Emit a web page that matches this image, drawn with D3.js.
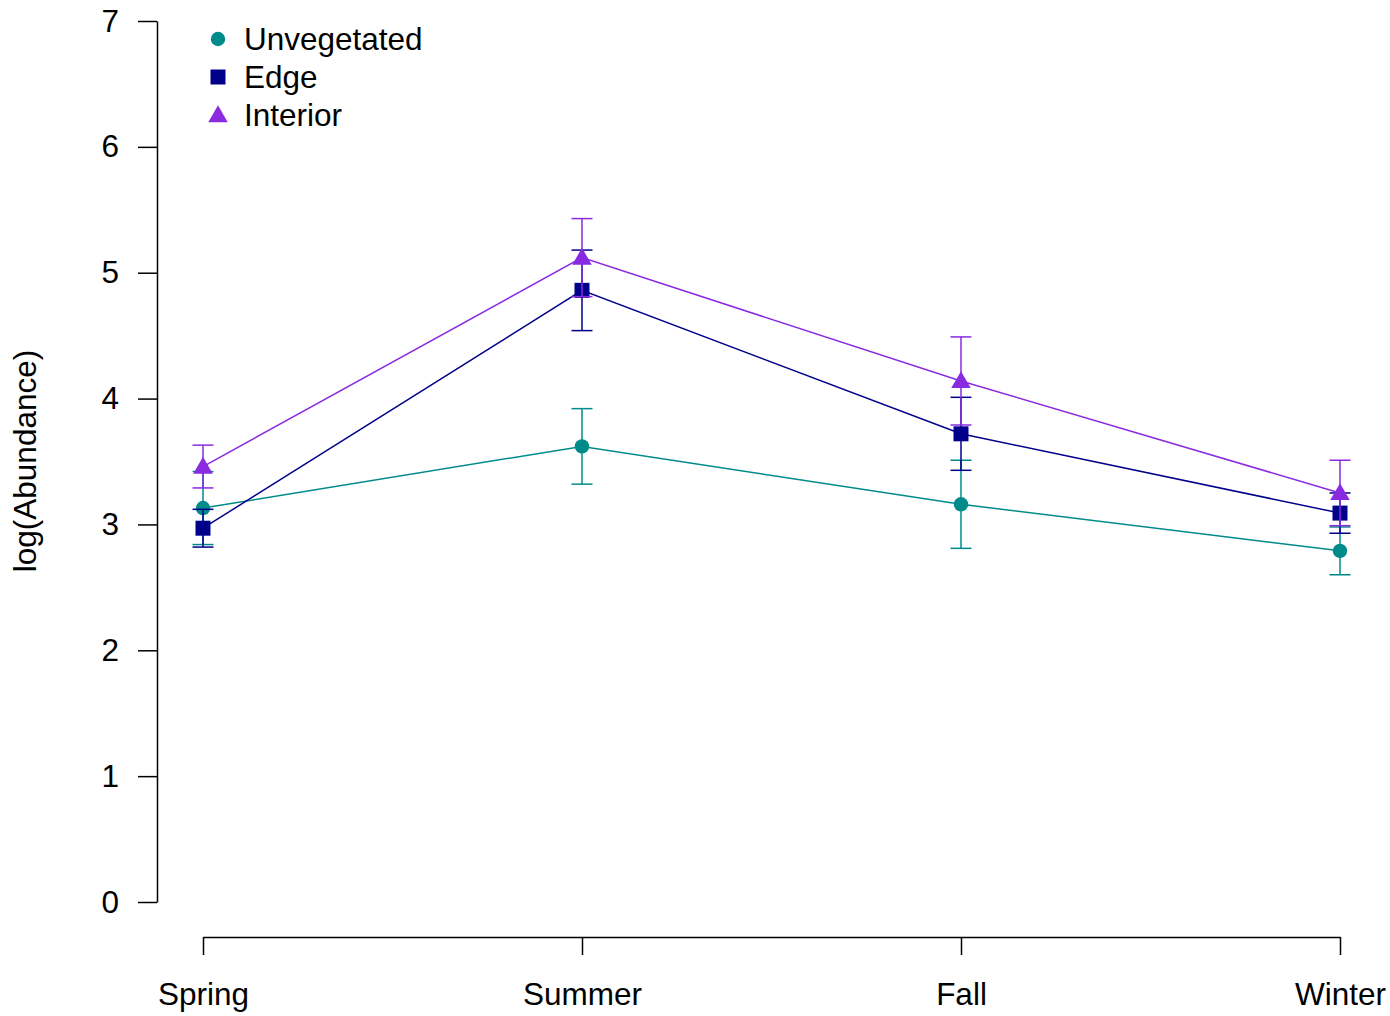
<!DOCTYPE html>
<html><head><meta charset="utf-8">
<script src="https://cdn.jsdelivr.net/npm/d3@7"></script>
<style>
body{margin:0;background:#fff;}
text{font-family:"Liberation Sans",Arial,Helvetica,sans-serif;}
</style></head>
<body>
<svg id="chart" width="1390" height="1016"></svg>
<script>
const seasons = ["Spring","Summer","Fall","Winter"];
const seriesNames = ["Unvegetated","Edge","Interior"];
const unvegMean = [3.13, 3.62, 3.16, 2.79];
const unvegErr  = [0.29, 0.30, 0.35, 0.19];
const edgeMean  = [2.97, 4.86, 3.72, 3.09];
const edgeErr   = [0.15, 0.32, 0.29, 0.16];
const intMean   = [3.46, 5.12, 4.14, 3.25];
const intErr    = [0.17, 0.31, 0.35, 0.26];
const yTicks = [0,1,2,3,4,5,6,7];
const colors = ["#008B8B","#00008B","#8A2BE2"];
const shapes = ["circle","square","triangle"];

const series = [
  {name: seriesNames[0], mean: unvegMean, err: unvegErr, color: colors[0], shape: shapes[0]},
  {name: seriesNames[1], mean: edgeMean, err: edgeErr, color: colors[1], shape: shapes[1]},
  {name: seriesNames[2], mean: intMean, err: intErr, color: colors[2], shape: shapes[2]}
];

const svg = d3.select("#chart");
const x = d3.scalePoint().domain(seasons).range([203,1340]);
const y = d3.scaleLinear().domain([0,7]).range([902,21]);

const fs = 31.5;

// Y axis
const ya = svg.append("g").attr("transform","translate(157,0)")
  .call(d3.axisLeft(y).tickValues(yTicks).tickFormat(d3.format("d")).tickSize(19).tickSizeOuter(0).tickPadding(19));
ya.selectAll("text").attr("font-size",fs).attr("fill","#000").style("font-family","Liberation Sans, Arial, sans-serif");
ya.selectAll("line,path").attr("stroke","#000").attr("stroke-width",1.5);

// X axis
const xa = svg.append("g").attr("transform","translate(0,937)")
  .call(d3.axisBottom(x).tickSize(18).tickSizeOuter(0).tickPadding(28));
xa.selectAll("text").attr("font-size",fs).attr("fill","#000").style("font-family","Liberation Sans, Arial, sans-serif");
xa.selectAll("line,path").attr("stroke","#000").attr("stroke-width",1.5);

// Y label
svg.append("text")
  .attr("transform","translate(36,461) rotate(-90)")
  .attr("text-anchor","middle")
  .attr("font-size",fs)
  .text("log(Abundance)");

const symGen = {
  circle: d3.symbol().type(d3.symbolCircle).size(Math.PI*7.2*7.2),
  square: d3.symbol().type(d3.symbolSquare).size(15*15),
  triangle: d3.symbol().type(d3.symbolTriangle).size(165)
};

const line = d3.line().x((d,i)=>x(seasons[i])).y(d=>y(d));
const capW = 10.5;

series.forEach(s => {
  const g = svg.append("g");
  g.append("path").attr("d", line(s.mean)).attr("fill","none")
    .attr("stroke", s.color).attr("stroke-width",1.5);
  s.mean.forEach((m,i) => {
    const cx = x(seasons[i]);
    const lo = y(m - s.err[i]), hi = y(m + s.err[i]);
    g.append("line").attr("x1",cx).attr("x2",cx).attr("y1",lo).attr("y2",hi)
      .attr("stroke",s.color).attr("stroke-width",1.5);
    [lo,hi].forEach(yy => g.append("line").attr("x1",cx-capW).attr("x2",cx+capW)
      .attr("y1",yy).attr("y2",yy).attr("stroke",s.color).attr("stroke-width",1.5));
    g.append("path").attr("d", symGen[s.shape]())
      .attr("transform",`translate(${cx},${y(m) + (s.shape==="triangle"?1.5:0)})`)
      .attr("fill", s.color);
  });
});

// Legend
const lg = svg.append("g");
series.forEach((s,i) => {
  const yy = 39 + i*38;
  lg.append("path").attr("d", symGen[s.shape]())
    .attr("transform",`translate(218,${yy + (s.shape==="triangle"?1.5:0)})`)
    .attr("fill", s.color);
  lg.append("text").attr("x",244).attr("y",yy).attr("dy","0.35em")
    .attr("font-size",fs).attr("fill","#000").text(s.name);
});
</script>
</body></html>
